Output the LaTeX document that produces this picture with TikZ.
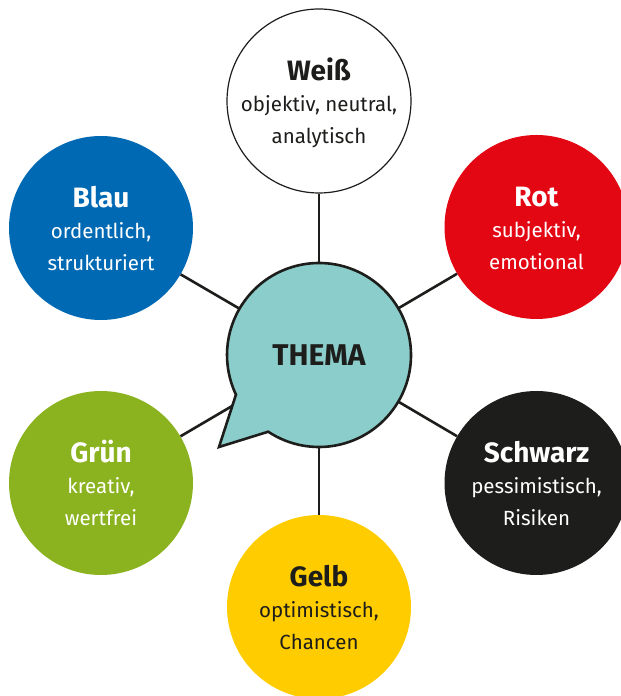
\documentclass[tikz,border=0pt]{standalone}
\usepackage{fontspec}
\setmainfont{Fira Sans}
\definecolor{ink}{HTML}{1D1D1B}
\definecolor{cblue}{HTML}{0069B4}
\definecolor{cred}{HTML}{E30613}
\definecolor{cgreen}{HTML}{8BB31F}
\definecolor{cyellow}{HTML}{FFCC00}
\definecolor{cteal}{HTML}{8ACDCA}
\begin{document}
\begin{tikzpicture}[x=1pt,y=1pt,
  hat/.style={circle,minimum size=184pt,inner sep=0pt},
  ttl/.style={font=\fontsize{28}{28}\selectfont\bfseries,anchor=base},
  sub/.style={font=\fontsize{20.5}{20.5}\selectfont,anchor=base},
  conn/.style={line width=2.6pt,draw=ink}]
\useasboundingbox (0,0) rectangle (621,696);
\node[hat] (thema) at (319,341) {};
\node[hat,fill=white,draw=ink,line width=1.2pt] (weiss) at (319,595) {};
\node[hat,fill=cred] (rot) at (536.5,469) {};
\node[hat,fill=cblue] (blau) at (101,468) {};
\node[hat,fill=cgreen] (gruen) at (101,213) {};
\node[hat,fill=ink] (schwarz) at (536.5,213) {};
\node[hat,fill=cyellow] (gelb) at (319,89) {};
\draw[conn] (thema) -- (weiss);
\draw[conn] (thema) -- (rot);
\draw[conn] (thema) -- (blau);
\draw[conn] (thema) -- (gruen);
\draw[conn] (thema) -- (schwarz);
\draw[conn] (thema) -- (gelb);
\filldraw[fill=cteal,draw=ink,line width=2.6pt,line join=miter]
  (319,341) ++(236.5:92) arc[start angle=236.5,end angle=565.5,radius=92]
  -- (219,249) -- cycle;
\node[font=\fontsize{30}{30}\selectfont\bfseries,text=ink,anchor=base] (themaT) at (319,330) {THEMA};
% Weiss
\node[ttl,text=ink] (wT) at ([yshift=20pt]weiss.center) {Weiß};
\node[sub,text=ink] (w1) at ([yshift=-11pt]weiss.center) {objektiv, neutral,};
\node[sub,text=ink] (w2) at ([yshift=-43pt]weiss.center) {analytisch};
% Rot
\node[ttl,text=white] (rT) at ([yshift=20pt]rot.center) {Rot};
\node[sub,text=white] (r1) at ([yshift=-11pt]rot.center) {subjektiv,};
\node[sub,text=white] (r2) at ([yshift=-43pt]rot.center) {emotional};
% Blau
\node[ttl,text=white] (bT) at ([yshift=20pt]blau.center) {Blau};
\node[sub,text=white] (b1) at ([yshift=-11pt]blau.center) {ordentlich,};
\node[sub,text=white] (b2) at ([yshift=-43pt]blau.center) {strukturiert};
% Gruen
\node[ttl,text=white] (gT) at ([yshift=20pt]gruen.center) {Grün};
\node[sub,text=white] (g1) at ([yshift=-11pt]gruen.center) {kreativ,};
\node[sub,text=white] (g2) at ([yshift=-43pt]gruen.center) {wertfrei};
% Schwarz
\node[ttl,text=white] (sT) at ([yshift=20pt]schwarz.center) {Schwarz};
\node[sub,text=white] (s1) at ([yshift=-11pt]schwarz.center) {pessimistisch,};
\node[sub,text=white] (s2) at ([yshift=-43pt]schwarz.center) {Risiken};
% Gelb
\node[ttl,text=ink] (yT) at ([yshift=20pt]gelb.center) {Gelb};
\node[sub,text=ink] (y1) at ([yshift=-11pt]gelb.center) {optimistisch,};
\node[sub,text=ink] (y2) at ([yshift=-43pt]gelb.center) {Chancen};
\end{tikzpicture}
\end{document}
